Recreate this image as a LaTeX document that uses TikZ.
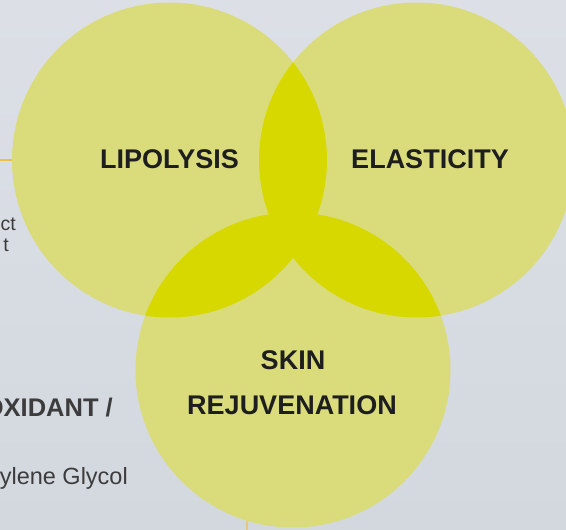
\documentclass[tikz,border=0pt]{standalone}
\usepackage{fontspec}
\setmainfont{Liberation Sans}
\definecolor{fondoG}{HTML}{DCE0E6}
\definecolor{fondoB}{HTML}{D3D8DF}
\definecolor{limaC}{HTML}{DADC7C}
\definecolor{limaF}{HTML}{D7D800}
\definecolor{doradoL}{HTML}{EDC24A}
\definecolor{negroT}{HTML}{1E1E1E}
\definecolor{grisT}{HTML}{3C3C3C}
\begin{document}
\begin{tikzpicture}[x=1pt,y=-1pt,
    circulo/.style={circle,fill=limaC,minimum size=315pt,inner sep=0pt,outer sep=0pt},
    rotulo/.style={font=\fontsize{27}{32}\selectfont\bfseries,text=negroT,anchor=base,inner sep=0pt},
    borde/.style={font=\fontsize{19.5}{22}\selectfont,text=grisT,anchor=base east,inner sep=0pt}]
  \shade[top color=fondoG,bottom color=fondoB] (0,0) rectangle (566,530);
  \useasboundingbox (0,0) rectangle (566,530);
  % circulos
  \node[circulo] (lip) at (169.5,160) {};
  \node[circulo] (ela) at (416.5,160) {};
  \node[circulo] (skin) at (293,370) {};
  % zonas comunes
  \begin{scope}
    \clip (lip.center) circle (157.5);
    \fill[limaF] (ela.center) circle (157.5);
    \fill[limaF] (skin.center) circle (157.5);
  \end{scope}
  \begin{scope}
    \clip (ela.center) circle (157.5);
    \fill[limaF] (skin.center) circle (157.5);
  \end{scope}
  % lineas
  \coordinate (hA) at (0,160);
  \coordinate (vA) at (247,530);
  \draw[doradoL,line width=1.2pt] (hA) -- (lip.west);
  \draw[doradoL,line width=1.2pt] (skin.253) -- (vA);
  % rotulos
  \node[rotulo] (tLip) at (169.5,168) {LIPOLYSIS};
  \node[rotulo] (tEla) at (430,168) {ELASTICITY};
  \node[rotulo] (tSkin) at (293,369) {SKIN};
  \node[rotulo] (tRej) at (292,414) {REJUVENATION};
  % texto cortado a la izquierda
  \node[borde] (tCt) at (16,230) {ct};
  \node[borde] (tT) at (9,251) {t};
  \node[borde,font=\fontsize{25.5}{28}\selectfont\bfseries] (tOx) at (113,416) {OXIDANT /};
  \node[borde,font=\fontsize{23.5}{26}\selectfont] (tGly) at (128,484) {ylene Glycol};
\end{tikzpicture}
\end{document}
